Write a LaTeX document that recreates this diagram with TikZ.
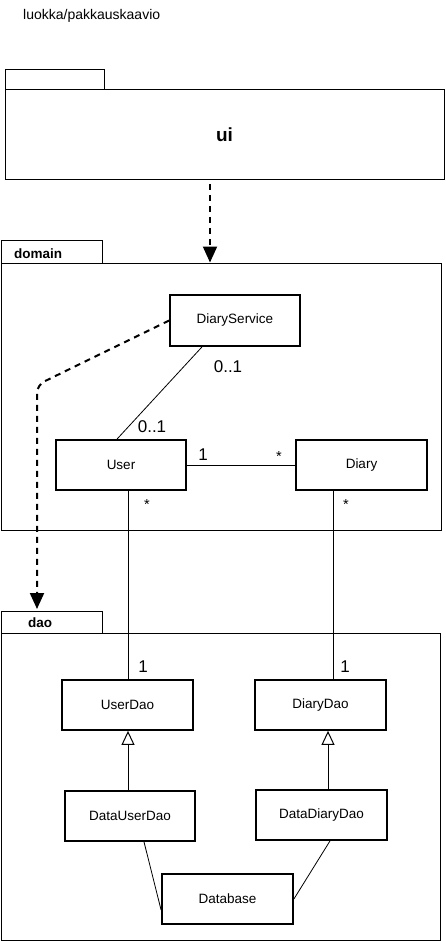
\documentclass[tikz,border=0pt]{standalone}
\usepackage{fontspec}
\setmainfont{Liberation Sans}
\usetikzlibrary{arrows.meta}
\begin{document}
\begin{tikzpicture}[x=1pt,y=-1pt,
  cls/.style={draw,line width=1.8pt,minimum width=130pt,minimum height=50pt,inner sep=0pt,font=\fontsize{13.5}{16}\selectfont},
  pkg/.style={draw,line width=1pt,inner sep=0pt},
  assoc/.style={line width=0.8pt},
  dep/.style={line width=2pt,dash pattern=on 6pt off 5pt,-{Triangle[length=16pt,width=14pt]}},
  inh/.style={line width=1pt,-{Triangle[open,length=14pt,width=13pt,line width=1pt]}},
  mult/.style={font=\fontsize{17}{20}\selectfont,inner sep=0pt},
  star/.style={font=\fontsize{14.5}{16}\selectfont,inner sep=0pt}]
\useasboundingbox (0,0) rectangle (445,941);
\node[anchor=west,font=\fontsize{14}{16}\selectfont,inner sep=0pt] (title) at (23,16) {luokka/pakkauskaavio};
% ui package
\node[pkg,minimum width=99pt,minimum height=20pt] (uitab) at (54.5,80) {};
\node[pkg,minimum width=439pt,minimum height=90pt,font=\bfseries\fontsize{19}{22}\selectfont] (ui) at (224.5,135) {ui};
% domain package
\node[pkg,minimum width=101pt,minimum height=23pt] (domtab) at (51.5,251.5) {};
\node[anchor=west,font=\bfseries\fontsize{13.5}{16}\selectfont,inner sep=0pt] (domlabel) at (14,254) {domain};
\node[pkg,minimum width=440pt,minimum height=267pt] (domain) at (221,396.5) {};
% dao package
\node[pkg,minimum width=101pt,minimum height=22pt] (daotab) at (51.5,622) {};
\node[anchor=west,font=\bfseries\fontsize{13.5}{16}\selectfont,inner sep=0pt] (daolabel) at (28,623) {dao};
\node[pkg,minimum width=439pt,minimum height=307pt] (dao) at (220.5,786.5) {};
% classes
\node[cls,minimum height=51pt] (ds) at (235,320.5) {DiaryService};
\node[cls] (user) at (121,465) {User};
\node[cls,minimum width=131pt] (diary) at (361.5,465) {Diary};
\node[cls,minimum width=131pt] (userdao) at (127.5,705) {UserDao};
\node[cls,minimum width=131pt] (diarydao) at (320.5,705) {DiaryDao};
\node[cls] (datauserdao) at (130,816) {DataUserDao};
\node[cls,minimum width=131pt] (datadiarydao) at (321.5,815) {DataDiaryDao};
\node[cls,minimum width=131pt] (db) at (227.5,899) {Database};
% dependencies
\coordinate (uistart) at (210,184);
\draw[dep] (uistart) -- (uistart |- domain.north);
\coordinate (bend) at (37,385);
\coordinate (daoarrow) at (37,609);
\draw[dep,rounded corners=8pt] (ds.west) -- (bend) -- (daoarrow);
% associations
\draw[assoc] ([xshift=-33pt]ds.south) -- ([xshift=-4pt]user.north);
\draw[assoc] (user.east) -- (diary.west);
\draw[assoc] ([xshift=7pt]user.south) -- ([xshift=0.5pt]userdao.north);
\draw[assoc] ([xshift=-28.5pt]diary.south) -- ([xshift=12.5pt]diarydao.north);
\draw[assoc] ([xshift=14pt]datauserdao.south) -- ([yshift=-11pt]db.west);
\draw[assoc] ([xshift=8.5pt]datadiarydao.south) -- (db.east);
% inheritance
\draw[inh] ([xshift=-2pt]datauserdao.north) -- ([xshift=0.5pt]userdao.south);
\draw[inh] ([xshift=6.5pt]datadiarydao.north) -- ([xshift=7.5pt]diarydao.south);
% multiplicities
\node[mult] (m1) at (228,367) {0..1};
\node[mult] (m2) at (152,427) {0..1};
\node[mult] (m3) at (203,455) {1};
\node[star] (m4) at (279,457) {*};
\node[star] (m5) at (147,505) {*};
\node[star] (m6) at (346,505) {*};
\node[mult] (m7) at (143,667) {1};
\node[mult] (m8) at (345,667) {1};
\end{tikzpicture}
\end{document}
